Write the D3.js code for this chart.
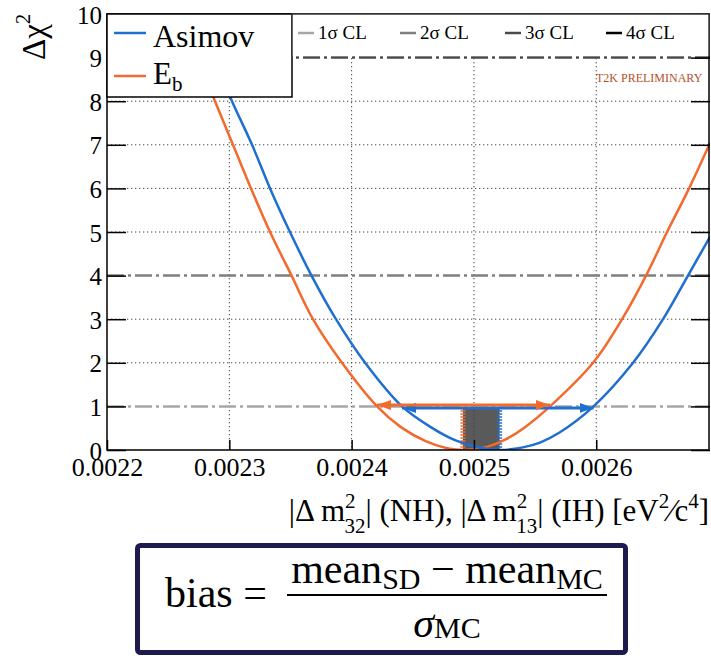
<!DOCTYPE html>
<html>
<head>
<meta charset="utf-8">
<script src="https://cdn.jsdelivr.net/npm/d3@7"></script>
<style>
  html, body { margin: 0; padding: 0; background: #fff; }
  svg { display: block; }
  text { font-family: "Liberation Serif", "Times New Roman", serif; fill: #000; }
</style>
</head>
<body>
<div id="chart"></div>
<script>
// ---------------- data ----------------
const xTicks = [0.0022, 0.0023, 0.0024, 0.0025, 0.0026];
const yTicks = [0, 1, 2, 3, 4, 5, 6, 7, 8, 9, 10];
const gridY = [2, 3, 5, 6, 7, 8];
const clLevels = [1, 4, 9];                 // 1σ, 2σ, 3σ  (Δχ² values)
const clLabels = ["1σ CL", "2σ CL", "3σ CL", "4σ CL"];
const seriesNames = ["Asimov", "E"];

// Asimov Δχ² curve
const asimovX = [0.002295, 0.0023022, 0.0023186, 0.0023333, 0.0023496, 0.0023672, 0.0023872, 0.0024110, 0.0024412,
                 0.002465, 0.002485, 0.002505, 0.002522, 0.002540, 0.002554, 0.002570,
                 0.0025978, 0.0026301, 0.0026546, 0.0026750, 0.002693];
const asimovY = [8.5, 8, 7, 6, 5, 4, 3, 2, 1,
                 0.52, 0.22, 0.05, 0, 0.06, 0.17, 0.40,
                 1, 2, 3, 4, 4.89];

// E_b Δχ² curve
const ebX = [0.002281, 0.0022883, 0.0023030, 0.0023177, 0.0023333, 0.0023509, 0.0023684, 0.0023921, 0.0024208,
             0.002440, 0.002460, 0.002478, 0.002492, 0.002508, 0.002525, 0.002542,
             0.0025622, 0.0025974, 0.0026211, 0.0026407, 0.0026579, 0.0026759, 0.002693];
const ebY = [8.5, 8, 7, 6, 5, 4, 3, 2, 1,
             0.53, 0.21, 0.04, 0, 0.05, 0.23, 0.53,
             1, 2, 3, 4, 5, 6, 7.04];

// 1σ intervals (arrows) and means (shaded band)
const ebInterval = [0.0024208, 0.0025622];
const asimovInterval = [0.0024412, 0.0025978];
const ebArrowY = 1.03, asimovArrowY = 0.965;
const ebMean = 0.002491, asimovMean = 0.002521;
const bandTop = 0.98;

// ---------------- layout ----------------
const W = 711, H = 656;
const L = 107, R = 710, T = 14, B = 450;
const blue = "#1f6fd0", orange = "#f26a2d";
const clColors = ["#a6a6a6", "#7f7f7f", "#4a4a4a", "#000000"];

const svg = d3.select("#chart").append("svg").attr("width", W).attr("height", H);

const x = d3.scaleLinear().domain([0.0022, 0.002693]).range([L, R]);
const y = d3.scaleLinear().domain([0, 10]).range([B, T]);

svg.append("defs").append("clipPath").attr("id", "plotclip")
  .append("rect").attr("x", L).attr("y", T).attr("width", R - L).attr("height", B - T);

const plot = svg.append("g").attr("clip-path", "url(#plotclip)");

// shaded band between the means
plot.append("rect")
  .attr("x", x(ebMean)).attr("y", y(bandTop))
  .attr("width", x(asimovMean) - x(ebMean)).attr("height", y(0) - y(bandTop))
  .attr("fill", "#5a5a5a");
plot.append("line").attr("x1", x(ebMean)).attr("x2", x(ebMean))
  .attr("y1", y(bandTop)).attr("y2", y(0))
  .attr("stroke", orange).attr("stroke-width", 5).attr("stroke-dasharray", "1.5,1.5");
plot.append("line").attr("x1", x(asimovMean)).attr("x2", x(asimovMean))
  .attr("y1", y(bandTop)).attr("y2", y(0))
  .attr("stroke", blue).attr("stroke-width", 5).attr("stroke-dasharray", "1.5,1.5");

// dotted grid
plot.selectAll(".gx").data(xTicks.slice(1)).enter().append("line")
  .attr("x1", d => x(d)).attr("x2", d => x(d)).attr("y1", T).attr("y2", B)
  .attr("stroke", "#444").attr("stroke-width", 1).attr("stroke-dasharray", "1.3,2.7");
plot.selectAll(".gy").data(gridY).enter().append("line")
  .attr("x1", L).attr("x2", R).attr("y1", d => y(d)).attr("y2", d => y(d))
  .attr("stroke", "#444").attr("stroke-width", 1).attr("stroke-dasharray", "1.3,2.7");

// CL lines
plot.selectAll(".cl").data(clLevels).enter().append("line")
  .attr("x1", L).attr("x2", R).attr("y1", d => y(d)).attr("y2", d => y(d))
  .attr("stroke", (d, i) => clColors[i]).attr("stroke-width", 2.5)
  .attr("stroke-dasharray", "17,4,3,4");

// curves
const line = d3.line().x(d => x(d[0])).y(d => y(d[1])).curve(d3.curveCatmullRom.alpha(0.5));
plot.append("path").datum(d3.zip(ebX, ebY)).attr("d", line)
  .attr("fill", "none").attr("stroke", orange).attr("stroke-width", 2.5);
plot.append("path").datum(d3.zip(asimovX, asimovY)).attr("d", line)
  .attr("fill", "none").attr("stroke", blue).attr("stroke-width", 2.5);

// arrows
const defs = svg.select("defs");
function marker(id, color) {
  defs.append("marker").attr("id", id)
    .attr("markerUnits", "userSpaceOnUse")
    .attr("viewBox", "0 0 14 10").attr("refX", 14).attr("refY", 5)
    .attr("markerWidth", 14).attr("markerHeight", 10)
    .attr("orient", "auto-start-reverse")
    .append("path").attr("d", "M0,0 L14,5 L0,10 Z").attr("fill", color);
}
marker("arrB", blue);
marker("arrO", orange);
plot.append("line")
  .attr("x1", x(asimovInterval[0])).attr("x2", x(asimovInterval[1]))
  .attr("y1", y(asimovArrowY)).attr("y2", y(asimovArrowY))
  .attr("stroke", blue).attr("stroke-width", 3)
  .attr("marker-start", "url(#arrB)").attr("marker-end", "url(#arrB)");
plot.append("line")
  .attr("x1", x(ebInterval[0])).attr("x2", x(ebInterval[1]))
  .attr("y1", y(ebArrowY)).attr("y2", y(ebArrowY))
  .attr("stroke", orange).attr("stroke-width", 3)
  .attr("marker-start", "url(#arrO)").attr("marker-end", "url(#arrO)");

// axes
const gL = svg.append("g").attr("transform", `translate(${L},0)`)
  .call(d3.axisLeft(y).tickValues(yTicks).tickSize(-19).tickSizeOuter(0).tickPadding(5).tickFormat(d3.format("d")));
gL.select(".domain").remove();
gL.selectAll("line").attr("stroke", "#000").attr("stroke-width", 1.5);
gL.selectAll("text").attr("font-size", 25).attr("font-family", "Liberation Serif").attr("dy", "0.36em");

const gR = svg.append("g").attr("transform", `translate(${R},0)`)
  .call(d3.axisRight(y).tickValues(yTicks).tickSize(-19).tickSizeOuter(0).tickFormat(""));
gR.select(".domain").remove();
gR.selectAll("line").attr("stroke", "#000").attr("stroke-width", 1.5);

const gB = svg.append("g").attr("transform", `translate(0,${B})`)
  .call(d3.axisBottom(x).tickValues(xTicks).tickSize(-10).tickSizeOuter(0).tickPadding(8).tickFormat(d3.format(".4f")));
gB.select(".domain").remove();
gB.selectAll("line").attr("stroke", "#000").attr("stroke-width", 1.5);
gB.selectAll("text").attr("font-size", 26).attr("font-family", "Liberation Serif");

// frame
svg.append("rect").attr("x", L).attr("y", T).attr("width", R - L - 1).attr("height", B - T)
  .attr("fill", "none").attr("stroke", "#000").attr("stroke-width", 1.5);

// legend 1 (series)
svg.append("rect").attr("x", L).attr("y", T).attr("width", 292 - L).attr("height", 97 - T)
  .attr("fill", "#fff").attr("stroke", "#000").attr("stroke-width", 1.5);
svg.append("line").attr("x1", 114).attr("x2", 146).attr("y1", 33).attr("y2", 33)
  .attr("stroke", blue).attr("stroke-width", 2.5);
svg.append("text").attr("x", 153).attr("y", 47).attr("font-size", 32).text(seriesNames[0]);
svg.append("line").attr("x1", 114).attr("x2", 146).attr("y1", 76).attr("y2", 76)
  .attr("stroke", orange).attr("stroke-width", 2.5);
const eb = svg.append("text").attr("x", 153).attr("y", 84).attr("font-size", 31);
eb.append("tspan").text(seriesNames[1]);
eb.append("tspan").attr("font-size", 21).attr("dy", 7).text("b");

// legend 2 (CL)
const l2top = T, l2bot = y(9) - 1.5, l2L = 292, l2R = R - 1;
svg.append("rect").attr("x", l2L).attr("y", l2top).attr("width", l2R - l2L).attr("height", l2bot - l2top)
  .attr("fill", "#fff");
svg.append("path").attr("d", `M${l2L},${l2bot} V${l2top} H${l2R} V${l2bot}`)
  .attr("fill", "none").attr("stroke", "#333").attr("stroke-width", 1.5);
const clX = [298, 400, 505, 606];
clLabels.forEach((lab, i) => {
  svg.append("line").attr("x1", clX[i]).attr("x2", clX[i] + 16).attr("y1", 33).attr("y2", 33)
    .attr("stroke", clColors[i]).attr("stroke-width", 2.5);
  svg.append("text").attr("x", clX[i] + 20).attr("y", 39).attr("font-size", 19).text(lab);
});

// preliminary tag
svg.append("text").attr("x", 596).attr("y", 82).attr("font-size", 12)
  .style("fill", "#b5502b").text("T2K PRELIMINARY");

// y title
const yt = svg.append("text").attr("transform", "translate(45,60) rotate(-90)").attr("font-size", 33);
yt.append("tspan").text("Δχ");
yt.append("tspan").attr("font-size", 21).attr("dy", -15).text("2");

// x title
const xt = svg.append("text").attr("x", 709).attr("y", 521).attr("text-anchor", "end").attr("font-size", 31);
xt.append("tspan").text("|Δ m");
xt.append("tspan").attr("font-size", 21).attr("dy", -13).text("2");
xt.append("tspan").attr("font-size", 21).attr("dx", -11).attr("dy", 25).text("32");
xt.append("tspan").attr("dy", -12).text("| (NH), |Δ m");
xt.append("tspan").attr("font-size", 21).attr("dy", -13).text("2");
xt.append("tspan").attr("font-size", 21).attr("dx", -11).attr("dy", 25).text("13");
xt.append("tspan").attr("dy", -12).text("| (IH) [eV");
xt.append("tspan").attr("font-size", 21).attr("dy", -13).text("2");
xt.append("tspan").attr("dy", 13).text("⁄c");
xt.append("tspan").attr("font-size", 21).attr("dy", -13).text("4");
xt.append("tspan").attr("dy", 13).text("]");

// formula box
svg.append("rect").attr("x", 137.5).attr("y", 545.5).attr("width", 488).attr("height", 107)
  .attr("rx", 3).attr("fill", "#fff").attr("stroke", "#1e1a4f").attr("stroke-width", 5);
svg.append("text").attr("x", 165).attr("y", 607).attr("font-size", 42).text("bias =");
const num = svg.append("text").attr("x", 447).attr("y", 583).attr("text-anchor", "middle").attr("font-size", 42);
num.append("tspan").text("mean");
num.append("tspan").attr("font-size", 30).attr("dy", 6).text("SD");
num.append("tspan").attr("dy", -6).text(" − mean");
num.append("tspan").attr("font-size", 30).attr("dy", 6).text("MC");
svg.append("line").attr("x1", 287).attr("x2", 607).attr("y1", 595).attr("y2", 595)
  .attr("stroke", "#000").attr("stroke-width", 2);
const den = svg.append("text").attr("x", 447).attr("y", 637).attr("text-anchor", "middle").attr("font-size", 42);
den.append("tspan").attr("font-style", "italic").text("σ");
den.append("tspan").attr("font-size", 30).attr("dy", 1).text("MC");
</script>
</body>
</html>
